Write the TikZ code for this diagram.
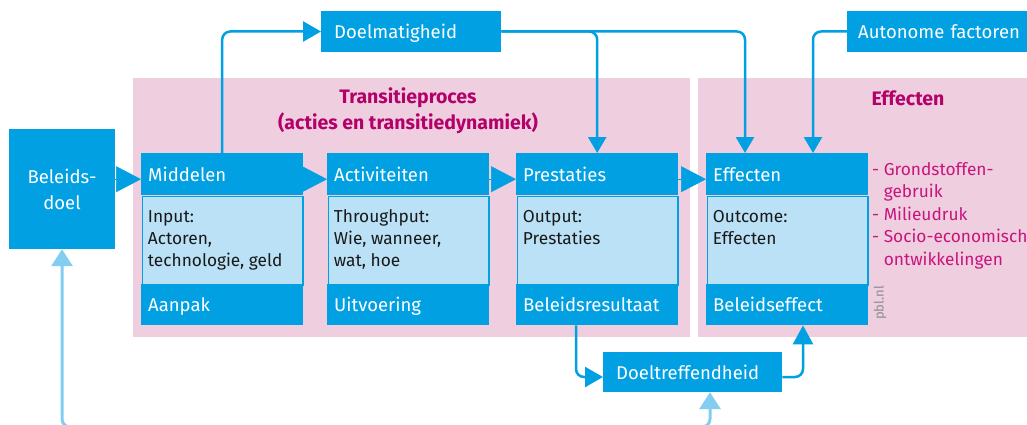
\documentclass[tikz,border=0pt]{standalone}
\usepackage{fontspec}
\setmainfont{Fira Sans}
\usetikzlibrary{arrows.meta,calc}
\definecolor{dblue}{RGB}{0,160,226}
\definecolor{lblue}{RGB}{186,225,246}
\definecolor{larrow}{RGB}{130,205,240}
\definecolor{pinkbg}{RGB}{239,207,223}
\definecolor{magtitle}{RGB}{180,0,105}
\definecolor{maglist}{RGB}{200,20,125}
\definecolor{greytext}{RGB}{140,140,140}
\definecolor{bodytxt}{RGB}{25,25,25}
\tikzset{
  hdr/.style={fill=dblue, text=white, anchor=north west, minimum width=162pt,
    minimum height=42pt, inner xsep=7pt, inner ysep=0pt, text width=148pt, align=left,
    text height=16pt, text depth=2pt, font=\fontsize{18.5}{20}\selectfont},
  ftr/.style={hdr, minimum height=41pt},
  bodybox/.style={fill=lblue, draw=dblue, line width=1.5pt, anchor=north west,
    minimum width=160.5pt, minimum height=88.5pt, inner sep=0pt},
  bodytext/.style={anchor=north west, inner sep=0pt, align=left, text=bodytxt,
    font=\fontsize{17.3}{22}\selectfont},
  tagbox/.style={fill=dblue, text=white, anchor=west, minimum height=41pt,
    inner ysep=0pt, align=left, text height=16pt, text depth=2pt,
    font=\fontsize{18.5}{20}\selectfont},
  conn/.style={draw=dblue, line width=2.5pt, rounded corners=8pt},
  smalltip/.style={-{Triangle[length=18pt,width=20pt]}},
  bigarrow/.style={draw=dblue, line width=0.5pt, -{Triangle[length=25pt,width=26pt]}},
  lconn/.style={draw=larrow, line width=3pt, rounded corners=8pt,
    {Triangle[length=17pt,width=21pt]}-{Triangle[length=17pt,width=21pt]}},
  title/.style={text=magtitle, font=\fontsize{19.5}{26}\selectfont\bfseries, align=center},
}
\begin{document}
\begin{tikzpicture}[x=1pt,y=-1pt]
\useasboundingbox (0,0) rectangle (1027,425);
% backgrounds
\fill[pinkbg] (133,78) rectangle (690,337);
\fill[pinkbg] (698,78) rectangle (1040,337);
\node[title] (t1) at (408,111) {Transitieproces\\(acties en transitiedynamiek)};
\node[title] (t2) at (908,98) {Effecten};

% Beleidsdoel
\node[fill=dblue, text=white, minimum width=106pt, minimum height=120pt, align=center,
  font=\fontsize{18.5}{26}\selectfont] (bd) at (62,189) {Beleids-\\doel};

% process boxes
\foreach \n/\x/\h/\f in {m/141/Middelen/Aanpak, a/327/Activiteiten/Uitvoering,
    p/516/Prestaties/Beleidsresultaat, e/706/Effecten/Beleidseffect}{
  \node[hdr] (\n1) at (\x,153) {\h};
  \node[bodybox] (\n2) at (\x+0.75,195.75) {};
  \node[ftr] (\n3) at (\x,284) {\f};
}
\node[bodytext] (mt) at ($(m2.north west)+(6,14)$) {\rule{0pt}{13pt}Input:\\Actoren,\\technologie, geld};
\node[bodytext] (at) at ($(a2.north west)+(6,14)$) {\rule{0pt}{13pt}Throughput:\\Wie, wanneer,\\wat, hoe};
\node[bodytext] (pt) at ($(p2.north west)+(6,14)$) {\rule{0pt}{13pt}Output:\\Prestaties};
\node[bodytext] (et) at ($(e2.north west)+(6,14)$) {\rule{0pt}{13pt}Outcome:\\Effecten};

% list and credit
\node[anchor=north west, inner sep=0pt, align=left, text=maglist,
  font=\fontsize{17.3}{22.5}\selectfont] (lst) at (872,162)
  {\rule{0pt}{13pt}- Grondstoffen-\\\phantom{- }gebruik\\- Milieudruk\\- Socio-economische\\\phantom{- }ontwikkelingen};
\node[rotate=90, text=greytext, font=\fontsize{13}{13}\selectfont, inner sep=0pt] (pbl) at (880,303) {pbl.nl};

% tags
\node[tagbox, minimum width=180pt, inner xsep=13pt, text width=154pt] (dm) at (321,31.5) {Doelmatigheid};
\node[tagbox, minimum width=200pt, inner xsep=11pt, text width=178pt] (af) at (847,31.5) {Autonome factoren};
\node[tagbox, minimum width=179pt, minimum height=40pt, inner xsep=13pt, text width=153pt] (dt) at (603,372) {Doeltreffendheid};

% big header arrows
\draw[bigarrow] ($(bd.east |- m1.west)+(0,5)$) -- ($(m1.west)+(0,5)$);
\draw[bigarrow] ($(m1.east)+(0,5)$) -- ($(a1.west)+(0,5)$);
\draw[bigarrow] ($(a1.east)+(0,5)$) -- ($(p1.west)+(0,5)$);
\draw[bigarrow] ($(p1.east)+(0,5)$) -- ($(e1.west)+(0,5)$);

% connectors
\coordinate (eA) at ($(e1.north west)+(39,0)$);
\coordinate (eC) at ($(e1.north west)+(107,0)$);
\coordinate (eB) at ($(e3.south west)+(97,0)$);
\coordinate (pB) at ($(p3.south west)+(60,0)$);
\coordinate (dtB) at ($(dt.south west)+(107,0)$);
\coordinate (low) at (400,427);

\draw[conn, smalltip] (m1.north) |- (dm.west);
\draw[conn, -{Triangle[length=16pt,width=18pt]}] (dm.east) -| (p1.north);
\draw[conn, -{Triangle[length=16pt,width=18pt]}] (dm.east) -| (eA);
\draw[conn, -{Triangle[length=16pt,width=18pt]}] (af.west) -| (eC);
\draw[conn, smalltip] (pB) |- ($(dt.west)+(0,5)$);
\draw[conn, -{Triangle[length=19pt,width=20pt]}] ($(dt.east)+(0,5)$) -| (eB);
\draw[lconn] (bd.south) -- (bd.south |- low) -- (dtB |- low) -- (dtB);
\end{tikzpicture}
\end{document}
